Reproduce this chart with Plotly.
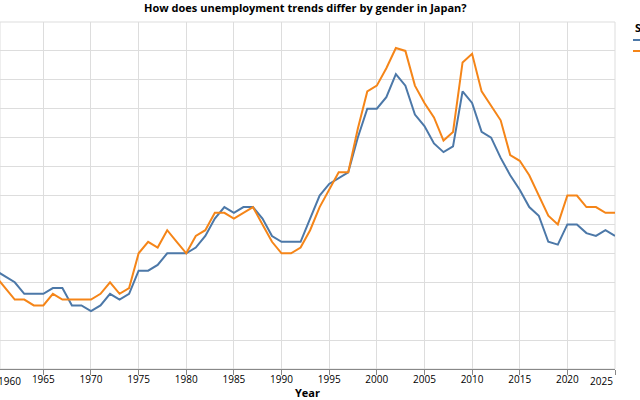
import plotly.graph_objects as go

years = list(range(1960, 2026))

female = [1.7, 1.6, 1.5, 1.3, 1.3, 1.3, 1.4, 1.4, 1.1, 1.1,
          1.0, 1.1, 1.3, 1.2, 1.3, 1.7, 1.7, 1.8, 2.0, 2.0,
          2.0, 2.1, 2.3, 2.6, 2.8, 2.7, 2.8, 2.8, 2.6, 2.3,
          2.2, 2.2, 2.2, 2.6, 3.0, 3.2, 3.3, 3.4, 4.0, 4.5,
          4.5, 4.7, 5.1, 4.9, 4.4, 4.2, 3.9, 3.75, 3.85, 4.8,
          4.6, 4.1, 4.0, 3.65, 3.35, 3.1, 2.8, 2.65, 2.2, 2.15,
          2.5, 2.5, 2.35, 2.3, 2.4, 2.3]

male = [1.6, 1.4, 1.2, 1.2, 1.1, 1.1, 1.3, 1.2, 1.2, 1.2,
        1.2, 1.3, 1.5, 1.3, 1.4, 2.0, 2.2, 2.1, 2.4, 2.2,
        2.0, 2.3, 2.4, 2.7, 2.7, 2.6, 2.7, 2.8, 2.5, 2.2,
        2.0, 2.0, 2.1, 2.4, 2.8, 3.1, 3.4, 3.4, 4.15, 4.8,
        4.9, 5.2, 5.55, 5.5, 4.9, 4.6, 4.35, 3.95, 4.1, 5.3,
        5.45, 4.8, 4.55, 4.3, 3.7, 3.6, 3.35, 3.0, 2.65, 2.5,
        3.0, 3.0, 2.8, 2.8, 2.7, 2.7]

series_names = ["Female", "Male"]
series_colors = ["#4c78a8", "#f58518"]
tick_years = list(range(1960, 2030, 5))

title_text = "How does unemployment trends differ by gender in Japan?"
x_title = "Year"
legend_title = "Sex"

FONT = "Open Sans"

fig = go.Figure()
for name, vals, col in zip(series_names, [female, male], series_colors):
    fig.add_trace(go.Scatter(x=years, y=vals, mode="lines", name=name,
                             line=dict(color=col, width=2), showlegend=False))

# pixel geometry
W, H = 640, 400
ml, mr, mt, mb = 0, 25, 22, 31
pw = W - ml - mr
left_px = -4.3  # where 1960 sits (offscreen left edge of original plot)
px_per_year = (pw - left_px) / (2025 - 1960)
x0 = 1960 + (0 - left_px) / px_per_year

ticktext = ["" if (y == 1960 or y == 2025) else str(y) for y in tick_years]

fig.update_layout(
    width=W, height=H,
    margin=dict(l=ml, r=mr, t=mt, b=mb, autoexpand=False),
    plot_bgcolor="white", paper_bgcolor="white",
    font=dict(family=FONT, color="#000"),
    title=dict(text=title_text, x=(left_px + pw) / 2 / pw, xref="paper", xanchor="center",
               y=1 - 8.5 / H, yref="container", yanchor="middle",
               font=dict(size=11, weight="bold", color="#000", family=FONT)),
    xaxis=dict(range=[x0, 2025], tickvals=tick_years, ticktext=ticktext,
               showgrid=True, gridcolor="#dddddd", gridwidth=1, zeroline=False,
               showline=True, linecolor="#888", linewidth=1,
               ticks="outside", ticklen=5, tickcolor="#888", tickwidth=1,
               ticklabelstandoff=-4,
               tickfont=dict(size=10, color="#000", family=FONT),
               title=dict(text=x_title, font=dict(size=11, weight="bold", color="#000", family=FONT),
                          standoff=2)),
    yaxis=dict(range=[0, 6], dtick=0.5, tick0=0, showgrid=True, gridcolor="#dddddd",
               gridwidth=1, zeroline=False, showticklabels=False, ticks="", showline=False),
    showlegend=False,
)

# view border
fig.add_shape(type="rect", xref="paper", yref="paper", x0=0, x1=1, y0=0, y1=1,
              line=dict(color="#dddddd", width=1), layer="below")

# flush first / last tick labels
for txt, xp, anc in [("1960", left_px / pw, "left"), ("2025", 1, "right")]:
    fig.add_annotation(text=txt, xref="paper", yref="paper", x=xp, y=0,
                       xanchor=anc, yanchor="top", yshift=-3, showarrow=False,
                       font=dict(size=10, color="#000", family=FONT))

# legend (cropped on the right)
ph = H - mt - mb
def py(ypx):
    return (H - mb - ypx) / ph
lx = (633 - ml) / pw
fig.add_annotation(text=legend_title, xref="paper", yref="paper", x=lx, y=py(27),
                   xanchor="left", yanchor="middle", showarrow=False,
                   font=dict(size=11, weight="bold", color="#000", family=FONT))
for i, (name, col) in enumerate(zip(series_names, series_colors)):
    yy = py(40 + 11 * i)
    fig.add_shape(type="line", xref="paper", yref="paper", x0=lx, x1=(650 - ml) / pw,
                  y0=yy, y1=yy, line=dict(color=col, width=2))

fig.write_html("out.html")
